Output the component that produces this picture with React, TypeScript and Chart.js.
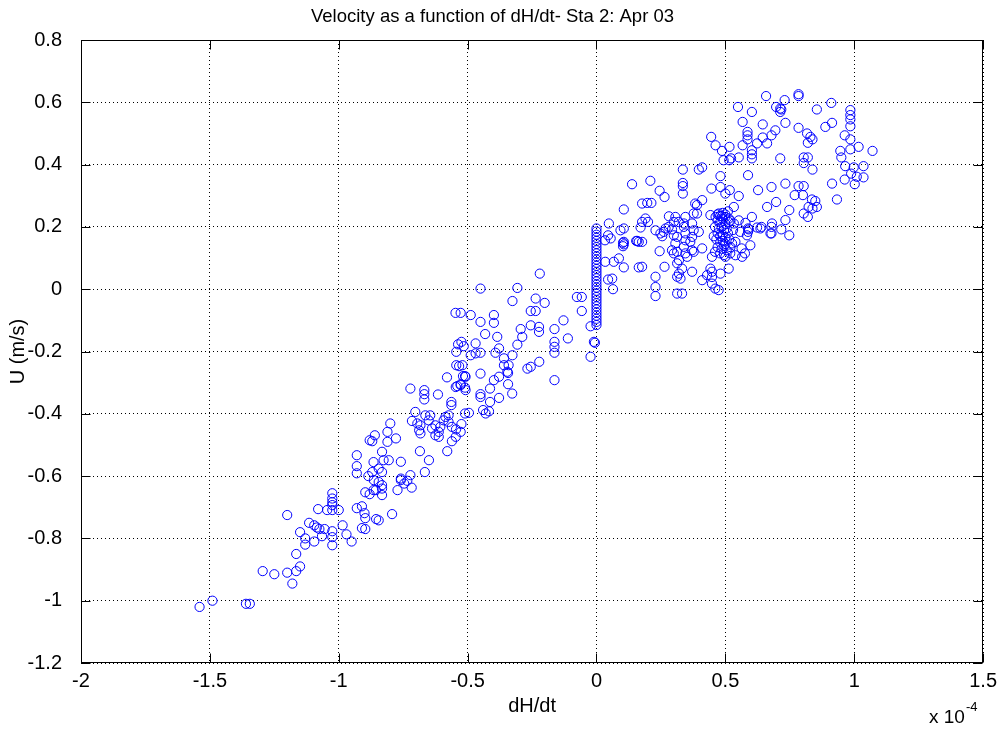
import { useEffect, useRef } from "react";
import { Chart, registerables } from "chart.js";

Chart.register(...registerables);

// ---- text ----
const titleText = "Velocity as a function of dH/dt- Sta 2: Apr 03";
const xLabel = "dH/dt";
const yLabel = "U (m/s)";
const xScaleBase = "x 10";
const xScaleExp = "-4";

// ---- tick labels (x in units of 1e-4) ----
const xTicks = [-2, -1.5, -1, -0.5, 0, 0.5, 1, 1.5];
const yTicks = [-1.2, -1, -0.8, -0.6, -0.4, -0.2, 0, 0.2, 0.4, 0.6, 0.8];

// ---- data: [dH/dt (x1e-4), U (m/s)] ----
const ebbStrong: [number, number][] = [
  [-1.54, -1.02], [-1.49, -1.0], [-1.36, -1.01], [-1.345, -1.01], [-1.2, -0.725], [-1.295, -0.905],
  [-1.25, -0.915], [-1.2, -0.91], [-1.18, -0.945], [-1.165, -0.905], [-1.15, -0.89], [-1.165, -0.85],
  [-1.15, -0.78], [-1.13, -0.8], [-1.13, -0.82], [-1.115, -0.75], [-1.095, -0.758], [-1.085, -0.765],
  [-1.075, -0.77], [-1.055, -0.77], [-1.095, -0.81], [-1.065, -0.793], [-1.025, -0.777], [-1.025, -0.796],
  [-1.025, -0.822], [-0.985, -0.758], [-0.97, -0.787], [-0.95, -0.81], [-1.08, -0.706], [-1.045, -0.709],
  [-1.025, -0.709], [-1.0, -0.709], [-1.025, -0.655], [-1.025, -0.672], [-1.025, -0.684], [-1.025, -0.693],
  [-0.93, -0.703], [-0.91, -0.697], [-0.9, -0.719], [-0.897, -0.735], [-0.91, -0.767], [-0.897, -0.77],
  [-0.855, -0.738], [-0.845, -0.742], [-0.793, -0.722], [-0.93, -0.533], [-0.93, -0.568], [-0.93, -0.591],
  [-0.885, -0.6], [-0.87, -0.587], [-0.865, -0.555], [-0.897, -0.652], [-0.88, -0.658], [-0.865, -0.645],
  [-0.88, -0.485], [-0.87, -0.488], [-0.86, -0.469],
];

const ebbMid: [number, number][] = [
  [-0.832, -0.522], [-0.826, -0.549], [-0.806, -0.549], [-0.845, -0.576], [-0.832, -0.587], [-0.864, -0.613],
  [-0.845, -0.619], [-0.832, -0.629], [-0.856, -0.645], [-0.832, -0.661], [-0.832, -0.64], [-0.8, -0.431],
  [-0.811, -0.458], [-0.778, -0.479], [-0.811, -0.49], [-0.722, -0.597], [-0.759, -0.613], [-0.746, -0.624],
  [-0.734, -0.615], [-0.717, -0.637], [-0.772, -0.645], [-0.759, -0.608], [-0.759, -0.554], [-0.65, -0.549],
  [-0.666, -0.587], [-0.685, -0.52], [-0.579, -0.52], [-0.688, -0.453], [-0.683, -0.463], [-0.625, -0.469],
  [-0.612, -0.474], [-0.527, -0.458], [-0.546, -0.474], [-0.561, -0.488], [-0.703, -0.394], [-0.716, -0.423],
  [-0.695, -0.431], [-0.683, -0.437], [-0.664, -0.405], [-0.645, -0.405], [-0.651, -0.421], [-0.638, -0.447],
  [-0.625, -0.437], [-0.612, -0.458], [-0.606, -0.442], [-0.593, -0.421], [-0.586, -0.41], [-0.574, -0.405],
  [-0.574, -0.426], [-0.561, -0.442], [-0.545, -0.45], [-0.524, -0.433], [-0.722, -0.319], [-0.668, -0.324],
  [-0.668, -0.337], [-0.668, -0.354], [-0.615, -0.338], [-0.58, -0.283], [-0.54, -0.311], [-0.527, -0.305],
  [-0.51, -0.316], [-0.51, -0.279], [-0.45, -0.271], [-0.45, -0.337], [-0.45, -0.346], [-0.413, -0.319],
  [-0.398, -0.292], [-0.378, -0.281], [-0.343, -0.269], [-0.343, -0.305], [-0.327, -0.335], [-0.378, -0.349],
  [-0.413, -0.362], [-0.44, -0.388], [-0.417, -0.392], [-0.43, -0.399], [-0.563, -0.362], [-0.563, -0.372],
  [-0.51, -0.399], [-0.495, -0.397],
];

const ebbWeak: [number, number][] = [
  [-0.45, 0.002], [-0.547, -0.076], [-0.527, -0.076], [-0.488, -0.083], [-0.45, -0.105], [-0.398, -0.083],
  [-0.398, -0.108], [-0.385, -0.153], [-0.432, -0.144], [-0.524, -0.169], [-0.515, -0.183], [-0.537, -0.177],
  [-0.544, -0.201], [-0.469, -0.174], [-0.488, -0.212], [-0.469, -0.206], [-0.45, -0.204], [-0.392, -0.204],
  [-0.544, -0.244], [-0.533, -0.247], [-0.52, -0.244], [-0.518, -0.279], [-0.508, -0.281], [-0.546, -0.314],
  [-0.527, -0.308], [-0.508, -0.324], [-0.22, 0.05], [-0.307, 0.004], [-0.326, -0.038], [-0.236, -0.03],
  [-0.201, -0.044], [-0.255, -0.07], [-0.236, -0.07], [-0.076, -0.025], [-0.057, -0.025], [-0.057, -0.07],
  [-0.128, -0.1], [-0.163, -0.128], [-0.111, -0.158], [-0.163, -0.169], [-0.163, -0.185], [-0.163, -0.204],
  [-0.222, -0.233], [-0.294, -0.128], [-0.288, -0.153], [-0.255, -0.116], [-0.223, -0.121], [-0.223, -0.137],
  [-0.307, -0.178], [-0.326, -0.212], [-0.378, -0.19], [-0.359, -0.222], [-0.359, -0.244], [-0.341, -0.244],
  [-0.255, -0.249], [-0.268, -0.255], [-0.346, -0.265], [-0.163, -0.292], [-0.023, -0.119], [-0.01, -0.169],
  [-0.023, -0.217], [-0.006, -0.172],
];

const slack: [number, number][] = [
  [0, 0.195], [0, 0.185], [0, 0.175], [0, 0.165], [0, 0.155], [0, 0.145], [0, 0.135], [0, 0.125],
  [0, 0.115], [0, 0.105], [0, 0.095], [0, 0.085], [0, 0.075], [0, 0.065], [0, 0.055], [0, 0.045],
  [0, 0.035], [0, 0.025], [0, 0.015], [0, 0.005], [0, -0.005], [0, -0.015], [0, -0.025], [0, -0.035],
  [0, -0.045], [0, -0.055], [0, -0.065], [0, -0.075], [0, -0.085], [0, -0.095], [0, -0.105], [0, -0.115],
];

const floodWeak: [number, number][] = [
  [0.048, 0.211], [0.045, 0.173], [0.055, 0.163], [0.033, 0.157], [0.093, 0.189], [0.106, 0.195],
  [0.106, 0.152], [0.106, 0.144], [0.154, 0.155], [0.138, 0.337], [0.106, 0.256], [0.034, 0.088],
  [0.067, 0.088], [0.087, 0.099], [0.106, 0.07], [0.045, 0.031], [0.061, 0.034], [0.064, 0.0],
  [0.164, 0.152], [0.164, 0.07], [0.209, 0.348], [0.245, 0.316], [0.264, 0.296], [0.177, 0.275],
  [0.197, 0.277], [0.213, 0.277], [0.19, 0.227], [0.177, 0.216], [0.171, 0.198], [0.2, 0.216],
  [0.281, 0.234], [0.3, 0.216], [0.268, 0.195], [0.248, 0.179], [0.255, 0.17], [0.229, 0.189],
  [0.261, 0.184], [0.293, 0.192], [0.3, 0.173], [0.158, 0.155], [0.177, 0.152], [0.103, 0.149],
  [0.103, 0.138], [0.245, 0.122], [0.293, 0.125], [0.313, 0.12], [0.177, 0.072], [0.264, 0.072],
  [0.229, 0.04], [0.229, 0.007], [0.229, -0.022], [0.313, 0.04], [0.313, -0.014], [0.335, 0.384],
  [0.335, 0.341], [0.335, 0.331], [0.335, 0.307],
];

const floodStrong: [number, number][] = [
  [0.658, 0.62], [0.784, 0.626], [0.784, 0.62], [0.73, 0.607], [0.717, 0.577], [0.697, 0.585],
  [0.911, 0.598], [0.855, 0.577], [0.985, 0.575], [0.985, 0.559], [0.985, 0.545], [0.985, 0.523],
  [0.549, 0.585], [0.603, 0.569], [0.567, 0.537], [0.645, 0.529], [0.733, 0.534], [0.784, 0.518],
  [0.888, 0.521], [0.914, 0.534], [0.445, 0.489], [0.462, 0.462], [0.487, 0.444], [0.516, 0.457],
  [0.493, 0.414], [0.515, 0.414], [0.522, 0.42], [0.552, 0.423], [0.567, 0.462], [0.586, 0.505],
  [0.586, 0.494], [0.586, 0.481], [0.603, 0.446], [0.603, 0.433], [0.603, 0.42], [0.623, 0.468],
  [0.645, 0.487], [0.662, 0.468], [0.679, 0.494], [0.694, 0.51], [0.713, 0.42], [0.713, 0.58],
  [0.713, 0.569], [0.817, 0.5], [0.83, 0.489], [0.82, 0.47], [0.838, 0.481], [0.804, 0.423],
  [0.82, 0.423], [0.804, 0.405], [0.838, 0.384], [0.963, 0.494], [0.985, 0.481], [1.017, 0.457],
  [0.985, 0.449], [0.946, 0.444], [0.95, 0.423], [1.071, 0.444], [0.965, 0.395], [0.998, 0.391],
  [1.036, 0.395], [0.988, 0.371], [1.01, 0.361], [1.036, 0.359], [0.963, 0.352], [1.002, 0.337],
  [0.914, 0.339], [0.933, 0.288], [0.397, 0.384], [0.41, 0.391],
];

const floodMid: [number, number][] = [
  [0.481, 0.363], [0.446, 0.323], [0.481, 0.328], [0.517, 0.318], [0.552, 0.299], [0.588, 0.366],
  [0.627, 0.318], [0.679, 0.328], [0.733, 0.339], [0.784, 0.331], [0.804, 0.331], [0.769, 0.302],
  [0.801, 0.302], [0.836, 0.288], [0.849, 0.283], [0.855, 0.264], [0.823, 0.264], [0.804, 0.243],
  [0.82, 0.232], [0.838, 0.259], [0.697, 0.28], [0.662, 0.264], [0.748, 0.254], [0.733, 0.222],
  [0.748, 0.173], [0.681, 0.211], [0.679, 0.179], [0.623, 0.198], [0.591, 0.192], [0.64, 0.2],
  [0.679, 0.2], [0.717, 0.192], [0.675, 0.179], [0.533, 0.264], [0.487, 0.234], [0.5, 0.232],
  [0.442, 0.238], [0.462, 0.232], [0.513, 0.216], [0.533, 0.211], [0.603, 0.232], [0.578, 0.213],
  [0.558, 0.184], [0.588, 0.195], [0.588, 0.184], [0.41, 0.286], [0.39, 0.27], [0.377, 0.243],
  [0.345, 0.232], [0.306, 0.232], [0.28, 0.2], [0.339, 0.211], [0.377, 0.189], [0.397, 0.184],
  [0.313, 0.168], [0.345, 0.157], [0.371, 0.168], [0.306, 0.147], [0.339, 0.136], [0.377, 0.12],
  [0.41, 0.131], [0.3, 0.115], [0.32, 0.093], [0.352, 0.104], [0.371, 0.056], [0.313, 0.083],
  [0.32, 0.05], [0.326, 0.034], [0.41, 0.029], [0.429, 0.045], [0.448, 0.056], [0.481, 0.05],
  [0.513, 0.066], [0.474, -0.003], [0.448, 0.018], [0.332, -0.014], [0.5, 0.307], [0.383, 0.275],
  [0.39, 0.243], [0.319, 0.216], [0.371, 0.211], [0.474, 0.243], [0.513, 0.227], [0.552, 0.221],
  [0.636, 0.195], [0.584, 0.173], [0.565, 0.104], [0.597, 0.141], [0.526, 0.147], [0.539, 0.109],
  [0.448, 0.104], [0.371, 0.125], [0.345, 0.115], [0.332, 0.066], [0.448, 0.039], [0.442, 0.066],
  [0.364, 0.152], [0.345, 0.179], [0.339, 0.2], [0.539, 0.152], [0.563, 0.131], [0.576, 0.115],
  [0.519, 0.115], [0.5, 0.104], [0.461, 0.002],
];

const floodCluster: [number, number][] = [
  [0.47, 0.24], [0.48, 0.235], [0.49, 0.245], [0.5, 0.24], [0.51, 0.25], [0.47, 0.22], [0.48, 0.215],
  [0.49, 0.225], [0.5, 0.21], [0.52, 0.22], [0.46, 0.2], [0.475, 0.195], [0.485, 0.2], [0.495, 0.19],
  [0.505, 0.195], [0.47, 0.18], [0.48, 0.17], [0.49, 0.175], [0.5, 0.165], [0.51, 0.18], [0.465, 0.16],
  [0.48, 0.15], [0.49, 0.155], [0.5, 0.145], [0.515, 0.16], [0.47, 0.135], [0.485, 0.13], [0.495, 0.14],
  [0.505, 0.125], [0.48, 0.115], [0.495, 0.11], [0.46, 0.12], [0.52, 0.135], [0.53, 0.19], [0.455, 0.17],
];

const FONT = "'Liberation Sans', Arial, Helvetica, sans-serif";

const framePlugin = {
  id: "matlabFrame",
  afterDraw(chart: any) {
    const { ctx, chartArea, scales } = chart;
    const l = Math.round(chartArea.left) + 0.5;
    const r = Math.round(chartArea.right) - 0.5;
    const t = Math.round(chartArea.top) + 0.5;
    const b = Math.round(chartArea.bottom) - 0.5;
    ctx.save();
    ctx.strokeStyle = "#000";
    ctx.lineWidth = 1;
    ctx.setLineDash([]);
    ctx.strokeRect(l, t, r - l, b - t);
    const tick = 9;
    ctx.beginPath();
    for (const v of xTicks) {
      const px = Math.round(scales.x.getPixelForValue(v)) + 0.5;
      ctx.moveTo(px, b); ctx.lineTo(px, b - tick);
      ctx.moveTo(px, t); ctx.lineTo(px, t + tick);
    }
    for (const v of yTicks) {
      const py = Math.round(scales.y.getPixelForValue(v)) + 0.5;
      ctx.moveTo(l, py); ctx.lineTo(l + tick, py);
      ctx.moveTo(r, py); ctx.lineTo(r - tick, py);
    }
    ctx.stroke();
    // exponent label of x axis
    ctx.fillStyle = "#000";
    ctx.textBaseline = "middle";
    ctx.textAlign = "left";
    ctx.font = `19px ${FONT}`;
    ctx.fillText(xScaleBase, 929, 718);
    const w = ctx.measureText(xScaleBase).width;
    ctx.font = `13px ${FONT}`;
    ctx.fillText(xScaleExp, 929 + w + 1, 707);
    ctx.restore();
  },
};

export default function App() {
  const ref = useRef<HTMLCanvasElement | null>(null);

  useEffect(() => {
    if (!ref.current) return;
    const points = [
      ...ebbStrong, ...ebbMid, ...ebbWeak, ...slack, ...floodWeak, ...floodStrong, ...floodMid, ...floodCluster,
    ].map(([x, y]) => ({ x, y }));

    const chart = new Chart(ref.current, {
      type: "scatter",
      data: {
        datasets: [
          {
            label: "U",
            data: points,
            pointStyle: "circle",
            pointRadius: 4.6,
            pointHoverRadius: 4.6,
            borderWidth: 1,
            borderColor: "#0000ff",
            backgroundColor: "rgba(0,0,0,0)",
          },
        ],
      },
      options: {
        animation: false,
        responsive: false,
        devicePixelRatio: 1,
        events: [],
        layout: { padding: { left: 0, right: 18, top: 0, bottom: 0 } },
        plugins: {
          legend: { display: false },
          tooltip: { enabled: false },
          title: {
            display: true,
            text: titleText,
            color: "#000",
            font: { family: FONT, size: 18.5, weight: "normal", lineHeight: 1.2 },
            padding: { top: 6, bottom: 11.8 },
          },
        },
        scales: {
          x: {
            type: "linear",
            min: -2,
            max: 1.5,
            afterBuildTicks: (s: any) => { s.ticks = xTicks.map((v) => ({ value: v })); },
            afterFit: (s: any) => { s.height = 66; },
            ticks: {
              color: "#000",
              font: { family: FONT, size: 20 },
              padding: 6,
              maxRotation: 0,
              autoSkip: false,
              callback: (v: any) => String(Number(Number(v).toFixed(2))),
            },
            grid: { color: "#000", drawTicks: false, lineWidth: 1 },
            border: { display: false, dash: [1, 3] },
            title: {
              display: true,
              text: xLabel,
              color: "#000",
              font: { family: FONT, size: 20, lineHeight: 1 },
              padding: { top: 0, bottom: 13 },
            },
          },
          y: {
            type: "linear",
            min: -1.2,
            max: 0.8,
            afterBuildTicks: (s: any) => { s.ticks = yTicks.map((v) => ({ value: v })); },
            afterFit: (s: any) => { s.width = 81; },
            ticks: {
              color: "#000",
              font: { family: FONT, size: 20 },
              padding: 19,
              autoSkip: false,
              callback: (v: any) => String(Number(Number(v).toFixed(2))),
            },
            grid: { color: "#000", drawTicks: false, lineWidth: 1 },
            border: { display: false, dash: [1, 3] },
            title: {
              display: true,
              text: yLabel,
              color: "#000",
              font: { family: FONT, size: 20, lineHeight: 1 },
              padding: { top: 8, bottom: 0 },
            },
          },
        },
      },
      plugins: [framePlugin],
    });
    return () => chart.destroy();
  }, []);

  return (
    <div style={{ position: "absolute", left: 0, top: 0, width: 1003, height: 729, background: "#fff" }}>
      <canvas ref={ref} width={1003} height={729} style={{ display: "block", width: 1003, height: 729 }} />
    </div>
  );
}
